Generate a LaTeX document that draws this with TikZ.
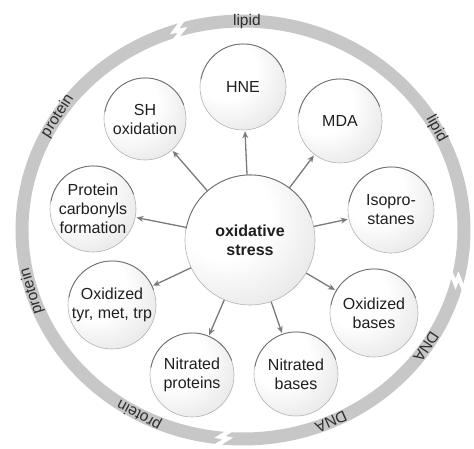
\documentclass[tikz,border=0pt]{standalone}
\usepackage{fontspec}
\setmainfont{Liberation Sans}
\usetikzlibrary{arrows.meta}
\pgfdeclareradialshading{sphere}{\pgfpoint{-14bp}{14bp}}{color(0bp)=(white); color(18bp)=(white); color(40bp)=(black!11); color(56bp)=(black!28); color(70bp)=(black!42)}
\newcommand\sphnode[5]{%
  \node[ball, minimum size={2*#4pt}] (#1) at (#2,#3) {#5};
  \draw[rim] (#1.20) arc[start angle=20, end angle=170, radius=#4pt];}
\begin{document}
\begin{tikzpicture}[x=1pt,y=1pt,
  ball/.style={circle, inner sep=0pt, align=center, shading=sphere, draw=black!30, line width=0.6pt,
    font=\fontsize{16}{19}\selectfont, text=black!88},
  rim/.style={draw=black!58, line width=0.8pt},
  arr/.style={draw=black!52, line width=1.3pt, -{Stealth[length=7pt,width=6pt]}, shorten >=1pt},
  ring/.style={draw=black!22, line width=13pt},
  ringlab/.style={font=\fontsize{15.5}{15.5}\selectfont, text=black!82, inner sep=0pt},
  brk/.style={draw=white, line width=4pt, line join=miter}]
\useasboundingbox (0,0) rectangle (474,448);
% ring
\draw[ring] (243,218) ellipse [x radius=221, y radius=209];
% breaks
\foreach \a in {107,-14,-95}{
  \begin{scope}[shift={(243,218)}]
  \begin{scope}[shift={(\a:221 and 209)}, rotate=\a]
    \draw[brk] (11,-11) -- (0,4) -- (-1,-4) -- (-11,10);
  \end{scope}
  \end{scope}}
% ring labels
\begin{scope}[shift={(243,218)}]
\node[ringlab, rotate=0] (l1) at (89:221 and 209) {lipid};
\node[ringlab, rotate=-61] (l2) at (29:221 and 209) {lipid};
\node[ringlab, rotate=-124] (d1) at (-34:221 and 209) {DNA};
\node[ringlab, rotate=-156] (d2) at (-66.5:221 and 209) {DNA};
\node[ringlab, rotate=152] (p1) at (-118:221 and 209) {protein};
\node[ringlab, rotate=107] (p2) at (197:221 and 209) {protein};
\node[ringlab, rotate=57] (p3) at (147:221 and 209) {protein};
\end{scope}
% spheres
\sphnode{hne}{243}{361}{43}{HNE}
\sphnode{sh}{145}{329}{41}{SH\\oxidation}
\sphnode{mda}{340}{327}{42}{MDA}
\sphnode{pcf}{93}{239}{43}{Protein\\carbonyls\\formation}
\sphnode{iso}{391}{238}{43}{Isopro-\\stanes}
\sphnode{oxt}{112}{143}{44}{Oxidized\\tyr, met, trp}
\sphnode{oxb}{374}{135}{44}{Oxidized\\bases}
\sphnode{np}{192}{73}{42}{Nitrated\\proteins}
\sphnode{nb}{296}{74}{42}{Nitrated\\bases}
\sphnode{os}{250}{208}{65}{\bfseries oxidative\\\bfseries stress}
% arrows
\foreach \t in {hne,sh,mda,pcf,iso,oxt,oxb,np,nb}{
  \draw[arr] (os) -- (\t);}
\end{tikzpicture}
\end{document}
